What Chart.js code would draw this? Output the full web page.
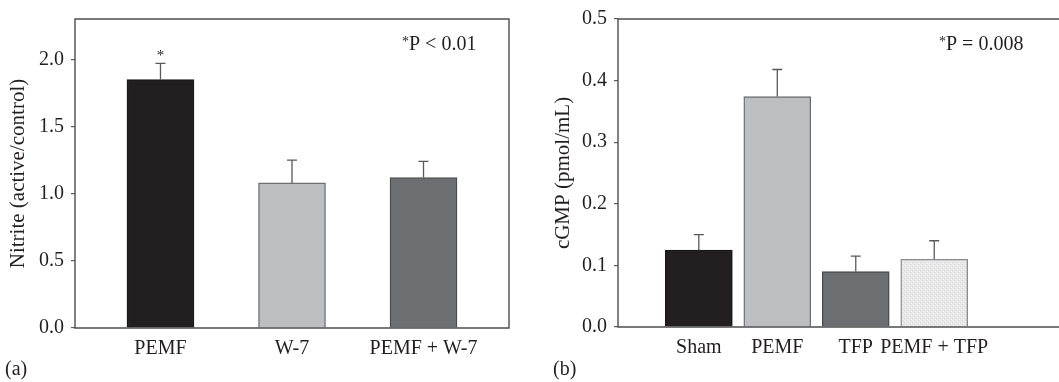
<!DOCTYPE html>
<html>
<head>
<meta charset="utf-8">
<script src="https://cdn.jsdelivr.net/npm/chart.js@4.4.1/dist/chart.umd.min.js"></script>
<style>
  body { margin: 0; background: #fff; }
  #wrap { position: relative; width: 1059px; height: 382px; }
  .panel { position: absolute; top: 0; height: 382px; }
</style>
</head>
<body>
<div id="wrap">
  <div class="panel" style="left:0;width:530px"><canvas id="chartA"></canvas></div>
  <div class="panel" style="left:530px;width:529px"><canvas id="chartB"></canvas></div>
</div>
<script>
// panel (a) - nitrite
const nitriteLabels = ['PEMF', 'W-7', 'PEMF + W-7'];
const nitriteMeans = [1.85, 1.08, 1.12];
const nitriteErr = [0.12, 0.17, 0.12];
const nitriteTicks = [0, 0.5, 1.0, 1.5, 2.0];

// panel (b) - cGMP
const cgmpLabels = ['Sham', 'PEMF', 'TFP', 'PEMF + TFP'];
const cgmpMeans = [0.125, 0.374, 0.09, 0.11];
const cgmpErr = [0.025, 0.044, 0.025, 0.03];
const cgmpTicks = [0, 0.1, 0.2, 0.3, 0.4, 0.5];

const ink = '#231f20';
const lineCol = '#58595b';
const serif = "'Liberation Serif', 'DejaVu Serif', serif";

// light speckled fill for the last bar in (b)
const speckle = (() => {
    const c = document.createElement('canvas');
    c.width = 4; c.height = 4;
    const g = c.getContext('2d');
    g.fillStyle = '#e8e8e9';
    g.fillRect(0, 0, 4, 4);
    g.fillStyle = '#d9dadb';
    g.fillRect(0, 0, 1, 1);
    g.fillRect(2, 2, 1, 1);
    g.fillStyle = '#f1f1f2';
    g.fillRect(3, 1, 1, 1);
    g.fillRect(1, 3, 1, 1);
    return g.createPattern(c, 'repeat');
})();

// error bars (upper only) + frame + text notes
const extras = {
    id: 'extras',
    afterDatasetsDraw(chart, args, opts) {
        const ctx = chart.ctx;
        const meta = chart.getDatasetMeta(0);
        const y = chart.scales.y;
        const ca = chart.chartArea;
        ctx.save();
        ctx.strokeStyle = lineCol;
        ctx.lineWidth = 1.3;
        meta.data.forEach((bar, i) => {
            const top = y.getPixelForValue(opts.means[i] + opts.errs[i]);
            ctx.beginPath();
            ctx.moveTo(bar.x, bar.y);
            ctx.lineTo(bar.x, top);
            ctx.moveTo(bar.x - 5, top);
            ctx.lineTo(bar.x + 5, top);
            ctx.stroke();
        });

        // frame
        ctx.strokeStyle = '#4d4d4f';
        ctx.lineWidth = 1.4;
        ctx.beginPath();
        if (opts.fullBox) {
            ctx.rect(ca.left, ca.top, ca.right - ca.left, ca.bottom - ca.top);
        } else {
            ctx.moveTo(chart.width, ca.top);
            ctx.lineTo(ca.left, ca.top);
            ctx.lineTo(ca.left, ca.bottom);
            ctx.lineTo(chart.width, ca.bottom);
        }
        ctx.stroke();

        // notes
        ctx.fillStyle = ink;
        ctx.textBaseline = 'middle';
        ctx.textAlign = 'left';
        ctx.font = '14px ' + serif;
        ctx.fillText('*', opts.noteX, opts.noteY - 3);
        ctx.font = '20px ' + serif;
        ctx.fillText(opts.note, opts.noteX + 7, opts.noteY);
        ctx.fillText(opts.panel, opts.panelX, 370);

        if (opts.starIndex != null) {
            const bar = meta.data[opts.starIndex];
            ctx.textAlign = 'center';
            ctx.font = '15px ' + serif;
            ctx.fillText('*', bar.x, 56);
        }
        ctx.restore();
    }
};

const makeChart = (id, cfg) => {
    const data = {
        datasets: [{
            data: cfg.means.map((v, i) => ({x: i, y: v})),
            backgroundColor: cfg.colors,
            borderColor: cfg.borders,
            borderWidth: 1.4,
            barThickness: 67
        }]
    };

    const config = {
        type: 'bar',
        data: data,
        options: {
            responsive: true,
            maintainAspectRatio: false,
            animation: false,
            layout: { padding: cfg.padding },
            plugins: {
                legend: { display: false },
                tooltip: { enabled: false },
                extras: cfg.extras
            },
            scales: {
                x: {
                    type: 'linear',
                    offset: false,
                    min: cfg.xMin,
                    max: cfg.xMax,
                    grid: { display: false },
                    border: { display: false },
                    afterBuildTicks: (s) => { s.ticks = cfg.labels.map((l, i) => ({value: i})); },
                    afterFit: (s) => { s.height = cfg.xHeight; },
                    ticks: {
                        autoSkip: false,
                        maxRotation: 0,
                        padding: 1,
                        color: ink,
                        font: { family: serif, size: 20 },
                        callback: (v) => cfg.labels[v]
                    }
                },
                y: {
                    min: 0,
                    max: cfg.yMax,
                    grid: { drawOnChartArea: false, tickLength: 4, color: lineCol, lineWidth: 1.2 },
                    border: { display: false },
                    afterBuildTicks: (s) => { s.ticks = cfg.ticks.map(v => ({value: v})); },
                    afterFit: (s) => { s.width = cfg.yWidth; },
                    ticks: {
                        padding: 7,
                        color: ink,
                        font: { family: serif, size: 20 },
                        callback: (v) => v.toFixed(1)
                    },
                    title: {
                        display: true,
                        text: cfg.yTitle,
                        color: ink,
                        font: { family: serif, size: 21 },
                        padding: { top: cfg.titlePad, bottom: 0 }
                    }
                }
            }
        },
        plugins: [extras]
    };

    let ctx = document.getElementById(id).getContext('2d');
    new Chart(ctx, config);
};

makeChart('chartA', {
    labels: nitriteLabels,
    means: nitriteMeans,
    ticks: nitriteTicks,
    yMax: 2.3,
    xMin: -0.65,
    xMax: 2.65,
    colors: ['#231f20', '#bcbec0', '#6d6e71'],
    borders: ['#1a1718', '#6d6e71', '#4d4d4f'],
    padding: { left: 0, top: 19, right: 21, bottom: 0 },
    xHeight: 54,
    yWidth: 75,
    titlePad: 6,
    yTitle: 'Nitrite (active/control)',
    extras: { means: nitriteMeans, errs: nitriteErr, fullBox: true, note: 'P < 0.01', noteX: 402, noteY: 45, panel: '(a)', panelX: 5, starIndex: 0 }
});

makeChart('chartB', {
    labels: cgmpLabels,
    means: cgmpMeans,
    ticks: cgmpTicks,
    yMax: 0.5,
    xMin: -1.03,
    xMax: 4.59,
    colors: ['#231f20', '#bcbec0', '#6d6e71', speckle],
    borders: ['#1a1718', '#6d6e71', '#4d4d4f', '#8a8b8d'],
    padding: { left: 0, top: 16, right: 0, bottom: 0 },
    xHeight: 55,
    yWidth: 88,
    titlePad: 21,
    yTitle: 'cGMP (pmol/mL)',
    extras: { means: cgmpMeans, errs: cgmpErr, fullBox: false, note: 'P = 0.008', noteX: 409, noteY: 45, panel: '(b)', panelX: 23, starIndex: null }
});
</script>
</body>
</html>
